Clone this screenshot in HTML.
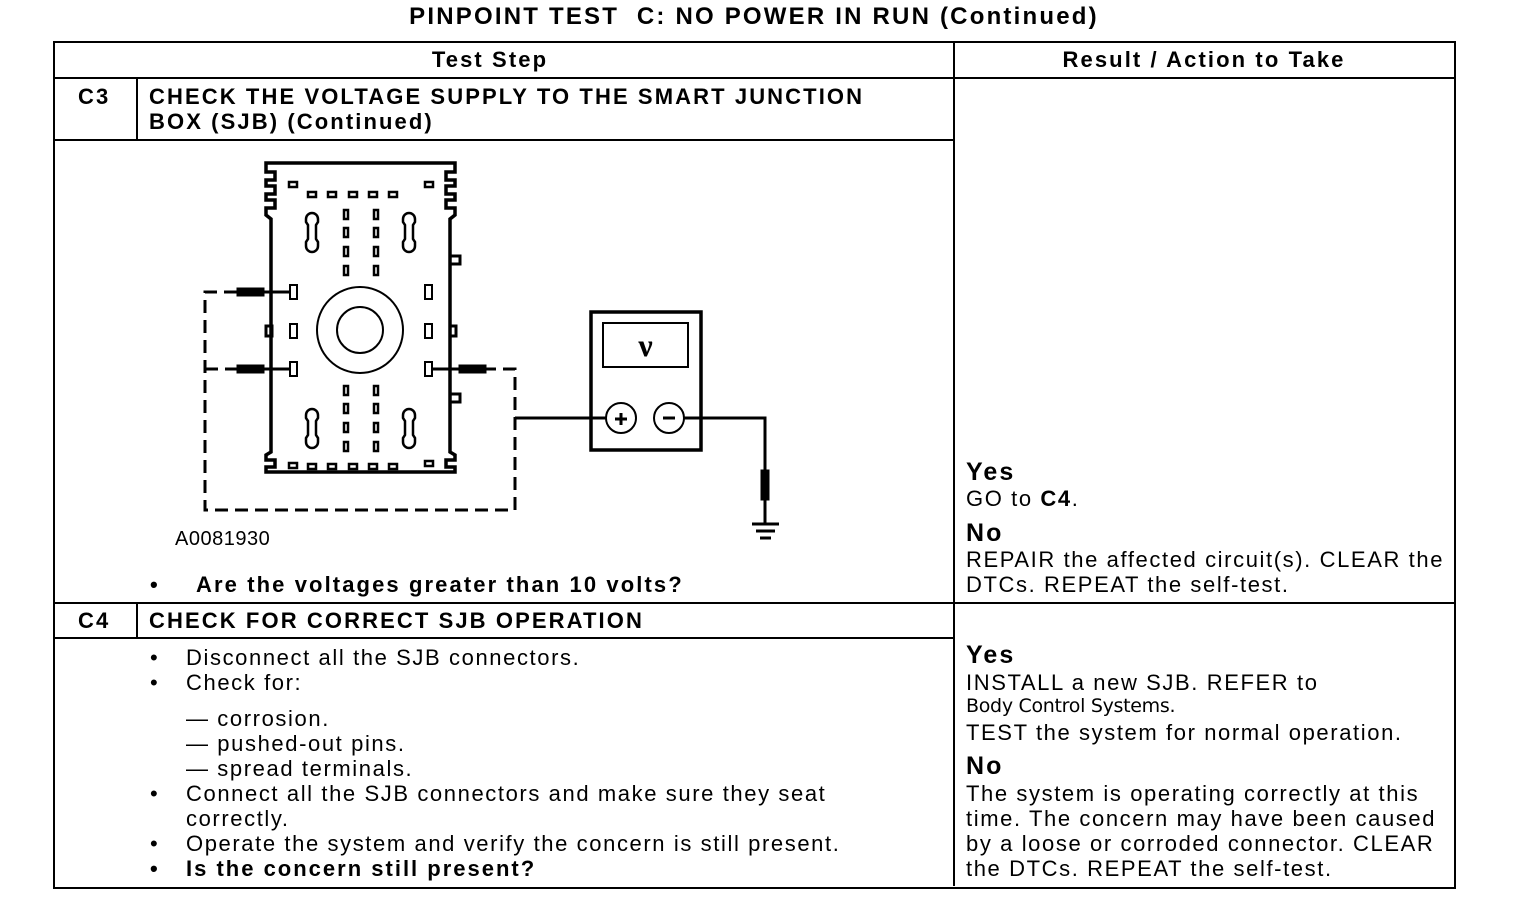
<!DOCTYPE html>
<html><head><style>
body{margin:0;background:#fff;width:1536px;height:900px;position:relative;overflow:hidden;font-family:"Liberation Sans",sans-serif;color:#000}
.t{position:absolute;white-space:nowrap;font-size:22px;line-height:25px;letter-spacing:1.6px}
.b{font-weight:bold;letter-spacing:2.1px}
.l{position:absolute;background:#000}
</style></head><body>
<div class="t b" style="left:0;width:1508px;text-align:center;top:4px;font-size:24px;letter-spacing:2.2px">PINPOINT TEST&nbsp; C: NO POWER IN RUN (Continued)</div>
<div style="position:absolute;left:53px;top:41px;width:1399px;height:844px;border:2px solid #000"></div>
<div class="l" style="left:54px;top:77px;width:1400px;height:2px"></div>
<div class="l" style="left:953px;top:42px;width:2px;height:844px"></div>
<div class="l" style="left:54px;top:139px;width:900px;height:2px"></div>
<div class="l" style="left:136px;top:78px;width:2px;height:62px"></div>
<div class="l" style="left:54px;top:602px;width:1400px;height:2px"></div>
<div class="l" style="left:54px;top:637px;width:900px;height:2px"></div>
<div class="l" style="left:136px;top:603px;width:2px;height:35px"></div>

<div class="t b" style="left:40px;width:900px;text-align:center;top:47px">Test Step</div>
<div class="t b" style="left:954px;width:500px;text-align:center;top:47px">Result / Action to Take</div>
<div class="t b" style="left:78px;top:84px">C3</div>
<div class="t b" style="left:149px;top:84px">CHECK THE VOLTAGE SUPPLY TO THE SMART JUNCTION<br>BOX (SJB) (Continued)</div>
<div class="t" style="left:175px;top:527px;font-size:20px;letter-spacing:0.5px">A0081930</div>
<div class="t b" style="left:150px;top:572px">•</div>
<div class="t b" style="left:196px;top:572px">Are the voltages greater than 10 volts?</div>
<div class="t b" style="left:966px;top:460px;font-size:25px">Yes</div>
<div class="t" style="left:966px;top:486px">GO to <b>C4</b>.</div>
<div class="t b" style="left:966px;top:521px;font-size:25px">No</div>
<div class="t" style="left:966px;top:547px">REPAIR the affected circuit(s). CLEAR the<br>DTCs. REPEAT the self-test.</div>

<div class="t b" style="left:78px;top:608px">C4</div>
<div class="t b" style="left:149px;top:608px">CHECK FOR CORRECT SJB OPERATION</div>
<div class="t" style="left:150px;top:645px">•<br>•</div>
<div class="t" style="left:186px;top:645px">Disconnect all the SJB connectors.<br>Check for:</div>
<div class="t" style="left:186px;top:706px">— corrosion.<br>— pushed-out pins.<br>— spread terminals.</div>
<div class="t" style="left:150px;top:781px">•<br><br>•<br><b>•</b></div>
<div class="t" style="left:186px;top:781px">Connect all the SJB connectors and make sure they seat<br>correctly.<br>Operate the system and verify the concern is still present.<br><b style="letter-spacing:2px">Is the concern still present?</b></div>

<div class="t b" style="left:966px;top:643px;font-size:25px">Yes</div>
<div class="t" style="left:966px;top:670px">INSTALL a new SJB. REFER to</div>
<div class="t" style="left:966px;top:694px;font-size:19px;font-family:'DejaVu Sans',sans-serif;letter-spacing:-0.3px">Body Control Systems.</div>
<div class="t" style="left:966px;top:720px">TEST the system for normal operation.</div>
<div class="t b" style="left:966px;top:754px;font-size:25px">No</div>
<div class="t" style="left:966px;top:781px">The system is operating correctly at this<br>time. The concern may have been caused<br>by a loose or corroded connector. CLEAR<br>the DTCs. REPEAT the self-test.</div>

<svg style="position:absolute;left:0;top:0" width="1536" height="900" fill="none" stroke="#000">
<path d="M266 163 H455 V172 H446 V180 H455 V186 H446 V194 H455 V200 H446 V208 H455 V215 L450 219 V452 L455 455 V460 H446 V467 H455 V472 H266 V467 H275 V460 H266 V455 L271 452 V219 L266 215 V208 H275 V200 H266 V194 H275 V186 H266 V180 H275 V172 H266 Z" stroke-width="3.5"/>
<rect x="450" y="256" width="10" height="8" stroke-width="3"/>
<rect x="450" y="326" width="6" height="10" stroke-width="3"/>
<rect x="450" y="394" width="10" height="8" stroke-width="3"/>
<rect x="266" y="326" width="6" height="10" stroke-width="3"/>
<g stroke-width="2.5">
<rect x="289" y="182" width="8" height="5"/><rect x="425" y="182" width="8" height="5"/>
<rect x="308" y="192" width="8" height="5"/><rect x="328" y="192" width="8" height="5"/><rect x="349" y="192" width="8" height="5"/><rect x="369" y="192" width="8" height="5"/><rect x="389" y="192" width="8" height="5"/>
<rect x="308" y="464" width="8" height="5"/>
<rect x="289" y="463" width="8" height="5"/><rect x="425" y="461" width="8" height="5"/>
<rect x="328" y="464" width="8" height="5"/><rect x="349" y="464" width="8" height="5"/><rect x="369" y="464" width="8" height="5"/><rect x="389" y="464" width="8" height="5"/>
</g>
<g stroke-width="2.5">
<rect x="344" y="210" width="4" height="9"/><rect x="374" y="210" width="4" height="9"/>
<rect x="344" y="228" width="4" height="9"/><rect x="374" y="228" width="4" height="9"/>
<rect x="344" y="247" width="4" height="9"/><rect x="374" y="247" width="4" height="9"/>
<rect x="344" y="266" width="4" height="9"/><rect x="374" y="266" width="4" height="9"/>
<rect x="344" y="386" width="4" height="9"/><rect x="374" y="386" width="4" height="9"/>
<rect x="344" y="404" width="4" height="9"/><rect x="374" y="404" width="4" height="9"/>
<rect x="344" y="423" width="4" height="9"/><rect x="374" y="423" width="4" height="9"/>
<rect x="344" y="442" width="4" height="9"/><rect x="374" y="442" width="4" height="9"/>
</g>
<g stroke-width="2.5">
<path d="M306 219 a6 6 0 0 1 12 0 v3 l-2 3 v14 l2 3 v4 a6 6 0 0 1 -12 0 v-4 l2 -3 v-14 l-2 -3 z"/>
<path d="M403 219 a6 6 0 0 1 12 0 v3 l-2 3 v14 l2 3 v4 a6 6 0 0 1 -12 0 v-4 l2 -3 v-14 l-2 -3 z"/>
<path d="M306 415 a6 6 0 0 1 12 0 v3 l-2 3 v14 l2 3 v4 a6 6 0 0 1 -12 0 v-4 l2 -3 v-14 l-2 -3 z"/>
<path d="M403 415 a6 6 0 0 1 12 0 v3 l-2 3 v14 l2 3 v4 a6 6 0 0 1 -12 0 v-4 l2 -3 v-14 l-2 -3 z"/>
</g>
<g stroke-width="2">
<rect x="290" y="285" width="7" height="14"/><rect x="425" y="285" width="7" height="14"/>
<rect x="290" y="324" width="7" height="14"/><rect x="425" y="324" width="7" height="14"/>
<rect x="290" y="362" width="7" height="14"/><rect x="425" y="362" width="7" height="14"/>
</g>
<circle cx="360" cy="330" r="43" stroke-width="2"/>
<circle cx="360" cy="330" r="23" stroke-width="2"/>
<g stroke-width="3">
<line x1="260" y1="292" x2="290" y2="292"/><line x1="260" y1="369" x2="290" y2="369"/><line x1="432" y1="369" x2="460" y2="369"/>
</g>
<rect x="237" y="288" width="27" height="8" fill="#000"/>
<rect x="237" y="365" width="27" height="8" fill="#000"/>
<rect x="459" y="365" width="27" height="8" fill="#000"/>
<path d="M237 292 H205 V510 H515 V369 H486 M205 369 H237" stroke-width="3" stroke-dasharray="13 7"/>
<line x1="515" y1="418" x2="606" y2="418" stroke-width="3"/>
<rect x="591" y="312" width="110" height="138" stroke-width="3.5"/>
<rect x="603" y="323" width="85" height="44" stroke-width="2"/>
<circle cx="621" cy="418" r="15" stroke-width="2"/>
<circle cx="669" cy="418" r="15" stroke-width="2"/>
<path d="M615 419 h12 M621 413 v12 M663 418 h12" stroke-width="3"/>
<path d="M684 418 H765 V523" stroke-width="3"/>
<rect x="761" y="470" width="8" height="30" fill="#000"/>
<path d="M752 524 H779 M756 531 H775 M760 538 H771" stroke-width="3"/>
</svg>
<div class="t" style="left:603px;width:85px;text-align:center;top:330px;font-family:'Liberation Serif',serif;font-size:32px;line-height:30px;font-weight:bold;letter-spacing:0">ν</div>
</body></html>
